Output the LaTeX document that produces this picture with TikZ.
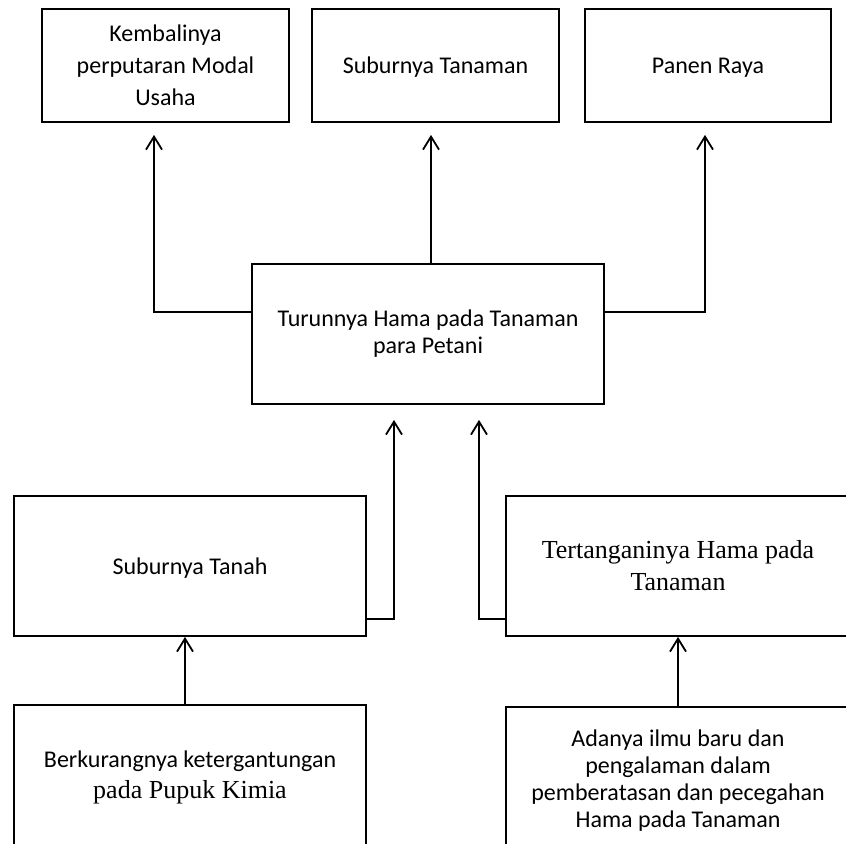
\documentclass[tikz,border=0pt]{standalone}
\usepackage{fontspec}
\setmainfont{Carlito}
\newfontfamily\serifteks{Liberation Serif}
\usetikzlibrary{arrows.meta}

\tikzset{
  kotak/.style={draw, line width=0.9pt, align=center, inner sep=0pt, font=\fontsize{12}{15.5}\selectfont},
  panah/.style={line width=0.9pt, -{Straight Barb[length=6.5pt,width=8pt]}}
}

\begin{document}
\begin{tikzpicture}[x=0.5pt, y=-0.5pt]
        \useasboundingbox (0,0) rectangle (846,843);
        % baris atas
        \node[kotak, minimum width=123.5pt, minimum height=56.5pt, font=\fontsize{12}{16}\selectfont] (kembali) at (165.5,65.5) {Kembalinya\\perputaran Modal\\Usaha};
        \node[kotak, minimum width=123.5pt, minimum height=56.5pt, text depth=0pt] (subtanaman) at (435.5,65.5) {Suburnya Tanaman};
        \node[kotak, minimum width=123pt, minimum height=56.5pt, text depth=0pt] (panen) at (708,65.5) {Panen Raya};
        % tengah
        \node[kotak, minimum width=176pt, minimum height=70pt, font=\fontsize{12}{13.5}\selectfont] (turun) at (428,334) {Turunnya Hama pada Tanaman\\para Petani};
        % baris bawah
        \node[kotak, minimum width=176pt, minimum height=70pt, text depth=0pt] (subtanah) at (190,566) {Suburnya Tanah};
        \node[kotak, minimum width=172pt, minimum height=70pt, font=\serifteks\fontsize{13}{16}\selectfont] (tertangani) at (678,566) {Tertanganinya Hama pada\\Tanaman};
        \node[kotak, minimum width=176pt, minimum height=72pt] (kurang) at (190,777) {Berkurangnya ketergantungan\\{\serifteks\fontsize{13}{15.5}\selectfont pada Pupuk Kimia}};
        \node[kotak, minimum width=172pt, minimum height=74pt, font=\fontsize{12}{13.5}\selectfont] (adanya) at (678,781) {Adanya ilmu baru dan\\pengalaman dalam\\pemberatasan dan pecegahan\\Hama pada Tanaman};
        % panah
        \draw[panah, shorten >=6pt] ([yshift=11pt]turun.west) -| ([xshift=-5.75pt]kembali.south);
        \draw[panah, shorten >=6pt] ([xshift=1.5pt]turun.north) -- ([xshift=-2.25pt]subtanaman.south);
        \draw[panah, shorten >=6pt] ([yshift=11pt]turun.east) -| ([xshift=-1.5pt]panen.south);
        \draw[panah, shorten >=7.5pt] ([yshift=-26.5pt]subtanah.east) -| ([xshift=-17pt]turun.south);
        \draw[panah, shorten >=7.5pt] ([yshift=-26.5pt]tertangani.west) -| ([xshift=25.5pt]turun.south);
        \draw[panah] ([xshift=-2.5pt]kurang.north) -- ([xshift=-2.5pt]subtanah.south);
        \draw[panah] (adanya.north) -- (tertangani.south);
\end{tikzpicture}
\end{document}
